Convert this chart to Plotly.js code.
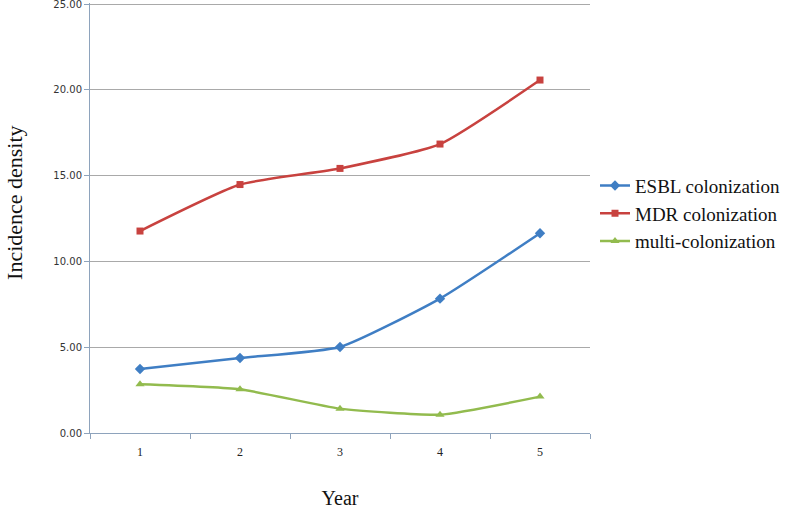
<!DOCTYPE html>
<html>
<head>
<meta charset="utf-8">
<script src="https://cdn.plot.ly/plotly-3.0.1.min.js"></script>
<style>html,body{margin:0;padding:0;background:#fff;}#chart{width:800px;height:509px;}</style>
</head>
<body>
<div id="chart"></div>
<script>
var years = ["1", "2", "3", "4", "5"];
var esbl = [3.73, 4.37, 5.01, 7.83, 11.64];
var mdr = [11.77, 14.48, 15.42, 16.84, 20.57];
var multi = [2.84, 2.55, 1.42, 1.07, 2.12];
var yTicks = [0, 5, 10, 15, 20, 25];
var yTickText = ["0.00", "5.00", "10.00", "15.00", "20.00", "25.00"];

var serif = "Liberation Serif, Times New Roman, serif";
var traces = [
  {x: years, y: esbl, name: "ESBL colonization", type: "scatter", mode: "lines+markers",
   line: {color: "#3F7EC4", width: 2.5, shape: "spline", smoothing: 0.5},
   marker: {symbol: "diamond", size: 8, color: "#3F7EC4"}},
  {x: years, y: mdr, name: "MDR colonization", type: "scatter", mode: "lines+markers",
   line: {color: "#C8423F", width: 2.5, shape: "spline", smoothing: 0.5},
   marker: {symbol: "square", size: 7, color: "#C8423F"}},
  {x: years, y: multi, name: "multi-colonization", type: "scatter", mode: "lines+markers",
   line: {color: "#92BB4E", width: 2.5, shape: "spline", smoothing: 0.5},
   marker: {symbol: "triangle-up", size: 8, color: "#92BB4E"}}
];

var layout = {
  width: 800, height: 509,
  margin: {l: 90, r: 210, t: 3, b: 76},
  paper_bgcolor: "#fff", plot_bgcolor: "#fff",
  showlegend: true,
  legend: {x: 1.01, xanchor: "left", y: 0.51, yanchor: "middle", itemwidth: 30,
           font: {family: serif, size: 19, color: "#111"}, tracegroupgap: 0},
  xaxis: {type: "category", range: [-0.5, 4.5], tickson: "boundaries", ticks: "outside", ticklen: 5,
          tickcolor: "#8EA3BC", showline: true, linecolor: "#8EA3BC", linewidth: 1,
          showgrid: false, zeroline: false, ticklabelstandoff: 8,
          tickfont: {family: serif, size: 12, color: "#222"},
          title: {text: "Year", font: {family: serif, size: 20, color: "#111"}, standoff: 32}},
  yaxis: {range: [0, 25.06], tickvals: yTicks, ticktext: yTickText, ticks: "outside", ticklen: 5,
          tickcolor: "#8EA3BC", showline: true, linecolor: "#8EA3BC", linewidth: 1,
          showgrid: true, gridcolor: "#A9A9A9", gridwidth: 1, zeroline: false,
          ticklabeloverflow: "allow",
          tickfont: {family: "DejaVu Sans, sans-serif", size: 10, color: "#333"}},
  annotations: [
    {text: "Incidence density", xref: "paper", yref: "paper", x: -0.15, y: 0.535,
     xanchor: "center", yanchor: "middle", textangle: -90, showarrow: false,
     font: {family: serif, size: 22, color: "#111"}}
  ]
};

Plotly.newPlot("chart", traces, layout, {displayModeBar: false, staticPlot: true});
</script>
</body>
</html>
